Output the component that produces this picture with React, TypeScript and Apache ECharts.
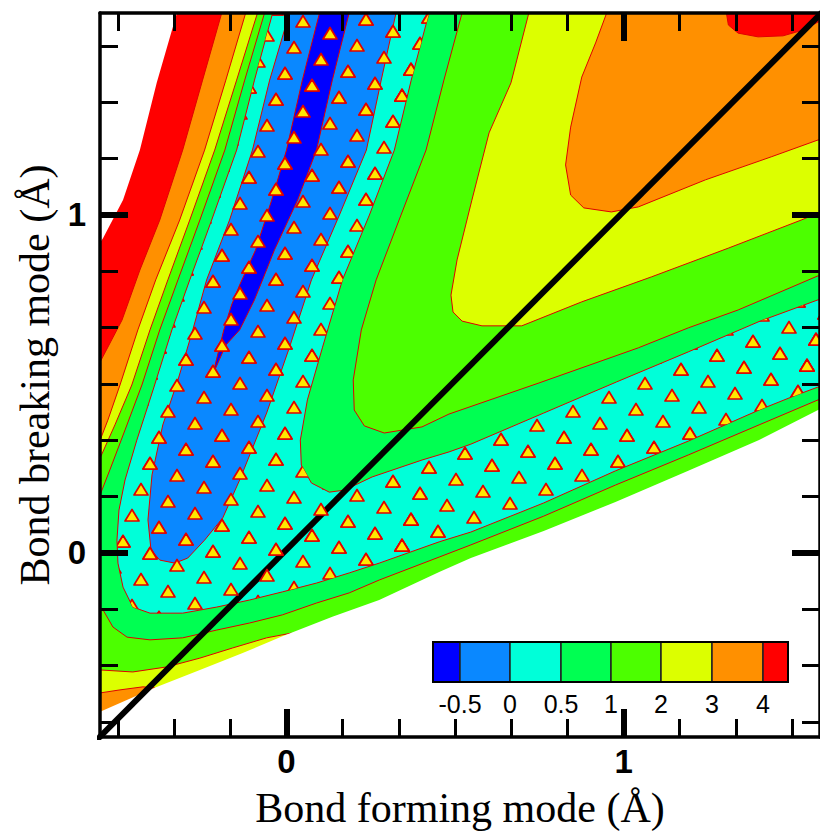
import React, { useEffect, useRef } from 'react';
import * as echarts from 'echarts';

// ---- axes (Å) ----
const X_RANGE = [-0.5533, 1.5828];
const Y_RANGE = [-0.5444, 1.5976];
const MAJOR_TICKS = [0, 1];
const MINOR_TICKS = [-0.5, -0.3333, -0.1667, 0.1667, 0.3333, 0.5, 0.6667, 0.8333, 1.1667, 1.3333, 1.5];

// ---- contour levels & colours ----
const LEVEL_LABELS = ['-0.5', '0', '0.5', '1', '2', '3', '4'];
const BAND_COLORS = ['#0000ff', '#0a88ff', '#00ffd9', '#00ff52', '#4cff00', '#dcff00', '#ff9000', '#ff0000'];
const LINE_COLOR = '#e00000';

// ---- reaction path (diagonal) ----
const DIAGONAL = [[-0.6, -0.59], [1.65, 1.66]];

// ---- sub-level regions (x, y in Å) ----
const FULL_FIELD = [[-0.7, -0.7], [1.7, -0.7], [1.7, 1.7], [-0.7, 1.7]];
const BELOW_4 = [[-0.192, 1.65], [-0.192, 1.598], [-0.249, 1.399], [-0.308, 1.192], [-0.376, 0.985], [-0.435, 0.837], [-0.488, 0.689], [-0.553, 0.565], [-0.7, 0.53], [-0.7, -0.7], [1.7, -0.7], [1.7, 1.571], [1.577, 1.571], [1.533, 1.547], [1.473, 1.53], [1.399, 1.527], [1.34, 1.538], [1.311, 1.562], [1.305, 1.598], [1.305, 1.65]];
const BELOW_3 = [[-0.121, 1.65], [-0.121, 1.598], [-0.18, 1.399], [-0.243, 1.192], [-0.317, 0.985], [-0.388, 0.808], [-0.441, 0.66], [-0.494, 0.497], [-0.53, 0.393], [-0.553, 0.334], [-0.7, 0.3], [-0.7, -0.414], [-0.553, -0.414], [-0.494, -0.405], [-0.426, -0.396], [-0.391, -0.399], [-0.346, -0.494], [1.577, 0.127], [1.7, 0.127], [1.7, 1.222], [1.577, 1.222], [1.438, 1.172], [1.243, 1.104], [1.044, 1.024], [0.964, 1.009], [0.882, 1.021], [0.843, 1.059], [0.828, 1.148], [0.843, 1.26], [0.876, 1.408], [0.917, 1.509], [0.95, 1.598], [0.95, 1.65]];
const BELOW_2 = [[-0.086, 1.65], [-0.086, 1.598], [-0.148, 1.399], [-0.213, 1.192], [-0.287, 0.985], [-0.352, 0.808], [-0.405, 0.66], [-0.459, 0.497], [-0.509, 0.379], [-0.553, 0.281], [-0.7, 0.25], [-0.7, -0.346], [-0.553, -0.346], [-0.456, -0.352], [-0.355, -0.337], [-0.257, -0.311], [-0.16, -0.281], [-0.059, -0.251], [0.015, -0.237], [0.098, -0.331], [1.577, 0.216], [1.7, 0.216], [1.7, 1.006], [1.577, 1.006], [1.527, 0.985], [1.311, 0.902], [1.083, 0.817], [0.876, 0.743], [0.698, 0.672], [0.58, 0.672], [0.521, 0.686], [0.494, 0.713], [0.488, 0.763], [0.506, 0.867], [0.55, 1.044], [0.601, 1.243], [0.666, 1.391], [0.719, 1.598], [0.719, 1.65]];
const BELOW_1 = [[-0.065, 1.65], [-0.065, 1.598], [-0.124, 1.399], [-0.183, 1.192], [-0.257, 0.985], [-0.322, 0.808], [-0.376, 0.66], [-0.429, 0.497], [-0.479, 0.364], [-0.524, 0.246], [-0.553, 0.172], [-0.7, 0.14], [-0.7, -0.169], [-0.553, -0.169], [-0.544, -0.169], [-0.515, -0.219], [-0.473, -0.249], [-0.405, -0.257], [-0.308, -0.251], [-0.207, -0.228], [-0.109, -0.207], [-0.012, -0.183], [0.089, -0.148], [0.186, -0.118], [0.275, -0.08], [0.453, -0.012], [0.547, 0.024], [0.763, 0.109], [0.976, 0.201], [1.192, 0.29], [1.402, 0.379], [1.577, 0.453], [1.7, 0.453], [1.7, 0.82], [1.577, 0.82], [1.34, 0.719], [1.192, 0.666], [1.044, 0.607], [0.749, 0.503], [0.482, 0.411], [0.402, 0.373], [0.29, 0.355], [0.231, 0.376], [0.201, 0.423], [0.198, 0.512], [0.222, 0.66], [0.266, 0.808], [0.334, 0.985], [0.414, 1.192], [0.467, 1.399], [0.521, 1.598], [0.521, 1.65]];
const BELOW_05 = [[-0.041, 1.65], [-0.041, 1.598], [-0.095, 1.399], [-0.148, 1.192], [-0.222, 0.985], [-0.287, 0.808], [-0.34, 0.66], [-0.396, 0.482], [-0.444, 0.334], [-0.479, 0.216], [-0.497, 0.127], [-0.503, 0.038], [-0.5, -0.03], [-0.485, -0.101], [-0.456, -0.16], [-0.405, -0.178], [-0.308, -0.178], [-0.207, -0.16], [-0.109, -0.139], [-0.012, -0.115], [0.089, -0.089], [0.186, -0.059], [0.275, -0.03], [0.453, 0.033], [0.547, 0.062], [0.763, 0.148], [0.976, 0.243], [1.192, 0.331], [1.402, 0.423], [1.512, 0.467], [1.577, 0.491], [1.7, 0.491], [1.7, 0.749], [1.577, 0.749], [1.405, 0.686], [1.192, 0.595], [0.979, 0.506], [0.763, 0.414], [0.547, 0.322], [0.482, 0.299], [0.402, 0.275], [0.254, 0.225], [0.172, 0.186], [0.127, 0.18], [0.074, 0.207], [0.044, 0.26], [0.041, 0.334], [0.062, 0.453], [0.107, 0.609], [0.166, 0.808], [0.246, 1.0], [0.32, 1.192], [0.37, 1.399], [0.423, 1.598], [0.423, 1.65]];
const BELOW_0 = [[0.009, 1.65], [0.009, 1.598], [-0.05, 1.399], [-0.101, 1.192], [-0.169, 0.985], [-0.237, 0.808], [-0.278, 0.66], [-0.322, 0.512], [-0.367, 0.379], [-0.399, 0.231], [-0.411, 0.098], [-0.402, 0.009], [-0.376, -0.021], [-0.331, -0.03], [-0.293, -0.015], [-0.243, 0.038], [-0.189, 0.104], [-0.139, 0.216], [-0.059, 0.414], [0.009, 0.609], [0.074, 0.808], [0.157, 1.0], [0.237, 1.192], [0.281, 1.399], [0.325, 1.598], [0.325, 1.65]];
const BELOW_M05 = [[0.098, 1.65], [0.098, 1.598], [0.047, 1.399], [0, 1.192], [-0.044, 1.044], [-0.092, 0.896], [-0.139, 0.793], [-0.163, 0.734], [-0.186, 0.66], [-0.219, 0.527], [-0.18, 0.615], [-0.139, 0.66], [-0.095, 0.749], [-0.071, 0.808], [-0.036, 0.896], [0.033, 1.044], [0.089, 1.192], [0.136, 1.399], [0.186, 1.598], [0.186, 1.65]];

// ---- outside of the computed surface (white) ----
const MASK_TOP_LEFT = [[-0.325, 1.7], [-0.325, 1.598], [-0.385, 1.391], [-0.435, 1.192], [-0.485, 1.044], [-0.544, 0.932], [-0.577, 0.882], [-0.7, 0.85], [-0.7, 1.7]];
const MASK_BOTTOM_RIGHT = [[-0.7, -0.534], [-0.553, -0.47], [-0.391, -0.399], [-0.257, -0.346], [-0.13, -0.296], [-0.012, -0.246], [0.136, -0.189], [0.275, -0.139], [0.453, -0.056], [0.547, -0.015], [0.763, 0.065], [0.976, 0.151], [1.192, 0.243], [1.402, 0.334], [1.577, 0.423], [1.7, 0.47], [1.7, -0.7], [-0.7, -0.7]];

const REGIONS = [FULL_FIELD, BELOW_4, BELOW_3, BELOW_2, BELOW_1, BELOW_05, BELOW_0, BELOW_M05];
const REGION_COLORS = ['#ff0000', '#ff9000', '#dcff00', '#4cff00', '#00ff52', '#00ffd9', '#0a88ff', '#0000ff'];

function makeStippleTile() {
  const W = 405, H = 90;
  const c = document.createElement('canvas');
  c.width = W; c.height = H;
  const ctx = c.getContext('2d');
  if (!ctx) return c;
  ctx.fillStyle = '#ffe800';
  ctx.strokeStyle = '#e00000';
  ctx.lineWidth = 1.7;
  ctx.lineJoin = 'round';
  const tri = (x: number, y: number) => {
    ctx.beginPath();
    ctx.moveTo(x, y - 6.5);
    ctx.lineTo(x + 7, y + 5);
    ctx.lineTo(x - 7, y + 5);
    ctx.closePath();
    ctx.fill();
    ctx.stroke();
  };
  for (let i = -20; i <= 20; i++) {
    for (let j = -20; j <= 20; j++) {
      let x = 303 + i * 27 - j * 9;
      let y = 22 + i * 12 + j * 26;
      if (x < -20 || x > W + 20 || y < -20 || y > H + 20) continue;
      x = ((x % W) + W) % W;
      y = ((y % H) + H) % H;
      for (const dx of [-W, 0, W]) for (const dy of [-H, 0, H]) tri(x + dx, y + dy);
    }
  }
  return c;
}

function polySeries(name: string, pts: number[][], style: any, z: number) {
  return {
    type: 'custom',
    name,
    coordinateSystem: 'cartesian2d',
    xAxisIndex: 0,
    yAxisIndex: 0,
    clip: true,
    silent: true,
    z,
    data: [[pts[0][0], pts[0][1]]],
    renderItem: (_p: any, api: any) => ({
      type: 'polygon',
      shape: { points: pts.map((p) => api.coord(p)) },
      style,
    }),
  };
}

export default function App() {
  const ref = useRef<HTMLDivElement>(null);
  useEffect(() => {
    if (!ref.current) return;
    document.body.style.margin = '0';
    const chart = echarts.init(ref.current, undefined, { renderer: 'svg' });
    const tile = makeStippleTile();

    const black = '#000';
    const xBase = { type: 'value', min: X_RANGE[0], max: X_RANGE[1], gridIndex: 0, z: 50, splitLine: { show: false } };
    const yBase = { type: 'value', min: Y_RANGE[0], max: Y_RANGE[1], gridIndex: 0, z: 50, splitLine: { show: false } };
    const majorTick = { show: true, inside: true, length: 28, lineStyle: { color: black, width: 6 }, customValues: MAJOR_TICKS };
    const minorTick = { show: true, inside: true, length: 18, lineStyle: { color: black, width: 3 }, customValues: MINOR_TICKS };
    const frame = { show: true, onZero: false, lineStyle: { color: black, width: 3.5 } };
    const noLine = { show: false, onZero: false };
    const tickFont = { fontFamily: 'Liberation Sans', fontWeight: 'bold', fontSize: 33, color: black };
    const titleFont = { fontFamily: 'Liberation Serif', fontSize: 42, color: black };

    const legendX = [433, 460, 510, 561, 611, 661, 712, 763, 788];
    const graphic: any[] = [];
    BAND_COLORS.forEach((c, i) => {
      graphic.push({ type: 'rect', z: 100, shape: { x: legendX[i], y: 642, width: legendX[i + 1] - legendX[i], height: 40 }, style: { fill: c, stroke: '#222', lineWidth: 1.5 } });
    });
    graphic.push({ type: 'rect', z: 101, shape: { x: 433, y: 642, width: 355, height: 40 }, style: { fill: 'none', stroke: black, lineWidth: 2 } });
    LEVEL_LABELS.forEach((t, i) => {
      graphic.push({ type: 'text', z: 101, x: legendX[i + 1], y: 704, style: { text: t, font: '25px "Liberation Sans"', fill: black, align: 'center', verticalAlign: 'middle' } });
    });

    const series: any[] = REGIONS.map((pts, i) =>
      polySeries('region' + i, pts, i === 0 ? { fill: REGION_COLORS[i] } : { fill: REGION_COLORS[i], stroke: LINE_COLOR, lineWidth: 1 }, 1 + i * 0.01)
    );
    series.push(polySeries('maskTL', MASK_TOP_LEFT, { fill: '#fff' }, 2));
    series.push(polySeries('maskBR', MASK_BOTTOM_RIGHT, { fill: '#fff' }, 2));
    series.push({
      type: 'line', name: 'path', xAxisIndex: 0, yAxisIndex: 0, data: DIAGONAL, symbol: 'none', clip: true, silent: true, z: 3,
      lineStyle: { color: black, width: 6 },
    });
    series.push(polySeries('stipple', BELOW_05, { fill: { image: tile, repeat: 'repeat', imageWidth: 405, imageHeight: 90 } }, 4));

    chart.setOption({
      animation: false,
      backgroundColor: '#fff',
      grid: { left: 100, top: 13, width: 722, height: 724, containLabel: false },
      xAxis: [
        { ...xBase, position: 'bottom', axisLine: frame, axisTick: majorTick, axisLabel: { show: true, customValues: MAJOR_TICKS, margin: 8, ...tickFont }, name: 'Bond forming mode (Å)', nameLocation: 'middle', nameGap: 50, nameTextStyle: titleFont },
        { ...xBase, position: 'bottom', axisLine: noLine, axisTick: minorTick, axisLabel: { show: false } },
        { ...xBase, position: 'top', axisLine: frame, axisTick: majorTick, axisLabel: { show: false } },
        { ...xBase, position: 'top', axisLine: noLine, axisTick: minorTick, axisLabel: { show: false } },
      ],
      yAxis: [
        { ...yBase, position: 'left', axisLine: frame, axisTick: majorTick, axisLabel: { show: true, customValues: MAJOR_TICKS, margin: 14, ...tickFont }, name: 'Bond breaking mode (Å)', nameLocation: 'middle', nameGap: 44, nameRotate: 90, nameTextStyle: titleFont },
        { ...yBase, position: 'left', axisLine: noLine, axisTick: minorTick, axisLabel: { show: false } },
        { ...yBase, position: 'right', axisLine: frame, axisTick: majorTick, axisLabel: { show: false } },
        { ...yBase, position: 'right', axisLine: noLine, axisTick: minorTick, axisLabel: { show: false } },
      ],
      series,
      graphic,
    });
    return () => chart.dispose();
  }, []);
  return <div ref={ref} style={{ position: 'fixed', left: 0, top: 0, width: 820, height: 834 }} />;
}
